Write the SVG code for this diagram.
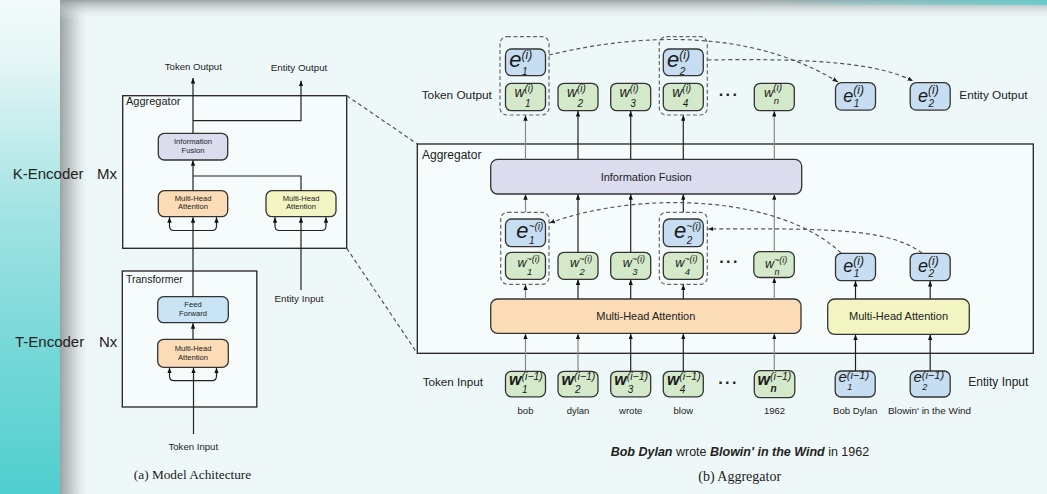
<svg xmlns="http://www.w3.org/2000/svg" width="1047" height="494" viewBox="0 0 1047 494">
<defs>
  <linearGradient id="strip" x1="0" y1="0" x2="0" y2="1">
    <stop offset="0" stop-color="#f2fafa"/>
    <stop offset="0.12" stop-color="#e6f6f6"/>
    <stop offset="0.4" stop-color="#a8e4e4"/>
    <stop offset="0.7" stop-color="#78d8d8"/>
    <stop offset="1" stop-color="#50cece"/>
  </linearGradient>
  <linearGradient id="shadowL" x1="0" y1="0" x2="1" y2="0">
    <stop offset="0" stop-color="#9ea3a4" stop-opacity="1"/>
    <stop offset="0.35" stop-color="#b9bebf" stop-opacity="0.8"/>
    <stop offset="1" stop-color="#eff8f8" stop-opacity="0"/>
  </linearGradient>
  <linearGradient id="shadowT" x1="0" y1="0" x2="0" y2="1">
    <stop offset="0" stop-color="#959b9c" stop-opacity="0.9"/>
    <stop offset="1" stop-color="#eff8f8" stop-opacity="0"/>
  </linearGradient>
  <linearGradient id="tealT" x1="0" y1="0" x2="1" y2="0">
    <stop offset="0" stop-color="#5fcfcf" stop-opacity="0"/>
    <stop offset="1" stop-color="#5fcfcf" stop-opacity="0.85"/>
  </linearGradient>
  <marker id="ah" viewBox="0 0 10 8" refX="10" refY="4" markerWidth="5.5" markerHeight="4.4" markerUnits="userSpaceOnUse" orient="auto-start-reverse">
    <path d="M0,0 L10,4 L0,8 z" fill="#111"/>
  </marker>
  <marker id="ahd" viewBox="0 0 10 8" refX="10" refY="4" markerWidth="5.5" markerHeight="4.4" markerUnits="userSpaceOnUse" orient="auto">
    <path d="M0,0 L10,4 L0,8 z" fill="#222"/>
  </marker>
</defs>
<style>
  .bx { stroke:#333; stroke-width:1.3; }
  .frame { fill:#f6fbfb; stroke:#222; stroke-width:1.3; }
  .gr { fill:#d4e9c9; }
  .bl { fill:#c7ddf1; }
  .lav { fill:#dcdcef; }
  .org { fill:#fcdcb7; }
  .yel { fill:#f2f4c2; }
  .ffb { fill:#c9e4f4; }
  .grp { fill:none; stroke:#666; stroke-width:1.2; stroke-dasharray:4 2.5; }
  .cn { fill:none; stroke:#222; stroke-width:1.2; }
  .cnl { fill:none; stroke:#888; stroke-width:1.2; }
  .dash { fill:none; stroke:#555; stroke-width:1.2; stroke-dasharray:4 3; }
  .t { font-family:"Liberation Sans", Arial, sans-serif; fill:#222; }
  .mi { font-family:"Liberation Sans", Arial, sans-serif; font-style:italic; fill:#1a1a1a; }
  .sf { font-family:"Liberation Serif", "Times New Roman", serif; fill:#222; }
  .c { text-anchor:middle; }
  .wb { font-weight:bold; }
  .nb { font-weight:normal; }
</style>

<!-- background -->
<rect x="0" y="0" width="1047" height="494" fill="#eff8f8"/>
<rect x="0" y="0" width="62" height="494" fill="url(#strip)"/>
<rect x="60" y="0" width="32" height="494" fill="url(#shadowL)"/>
<rect x="60" y="0" width="987" height="20" fill="url(#shadowT)"/>
<rect x="760" y="0" width="287" height="5" fill="url(#tealT)"/>

<!-- side labels -->
<g id="k-encoder-label">
  <text class="t" x="12.7" y="178.5" font-size="15">K-Encoder</text>
  <text class="t" x="97" y="178.5" font-size="15">Mx</text>
</g>
<g id="t-encoder-label">
  <text class="t" x="15" y="347" font-size="15">T-Encoder</text>
  <text class="t" x="99" y="347" font-size="15">Nx</text>
</g>

<!-- (a) Model architecture -->
<g id="a-aggregator">
  <rect class="frame" x="122.7" y="95.7" width="224" height="152.6"/>
  <text class="t" x="126" y="105" font-size="11">Aggregator</text>
</g>
<g id="a-transformer">
  <rect class="frame" x="122.3" y="271" width="134.5" height="136"/>
  <text class="t" x="126" y="282.5" font-size="10.5">Transformer</text>
</g>
<g id="a-info-fusion">
  <rect class="bx lav" x="158.3" y="133.3" width="69.4" height="26.7" rx="6"/>
  <text class="t c" x="193" y="143.5" font-size="7.6">Information</text>
  <text class="t c" x="193" y="152.8" font-size="7.6">Fusion</text>
</g>
<g id="a-mha-token">
  <rect class="bx org" x="158.3" y="190.7" width="69.4" height="26" rx="6"/>
  <text class="t c" x="193" y="200.5" font-size="7.6">Multi-Head</text>
  <text class="t c" x="193" y="209.3" font-size="7.6">Attention</text>
</g>
<g id="a-mha-entity">
  <rect class="bx yel" x="266" y="190.7" width="70" height="26" rx="6"/>
  <text class="t c" x="301" y="200.5" font-size="7.6">Multi-Head</text>
  <text class="t c" x="301" y="209.3" font-size="7.6">Attention</text>
</g>
<g id="a-feed-forward">
  <rect class="bx ffb" x="157.7" y="296.7" width="70.6" height="26" rx="6"/>
  <text class="t c" x="193" y="307.3" font-size="7.6">Feed</text>
  <text class="t c" x="193" y="315.8" font-size="7.6">Forward</text>
</g>
<g id="a-mha-transformer">
  <rect class="bx org" x="157.7" y="339.3" width="70.6" height="28" rx="6"/>
  <text class="t c" x="193" y="350.7" font-size="7.6">Multi-Head</text>
  <text class="t c" x="193" y="360" font-size="7.6">Attention</text>
</g>
<g id="a-token-output"><text class="t c" x="193.3" y="69.5" font-size="9.6">Token Output</text></g>
<g id="a-entity-output"><text class="t c" x="299" y="71" font-size="9.8">Entity Output</text></g>
<g id="a-entity-input"><text class="t c" x="299" y="301.5" font-size="9.8">Entity Input</text></g>
<g id="a-token-input"><text class="t c" x="193.3" y="450" font-size="9.6">Token Input</text></g>
<g id="a-caption"><text class="sf c" x="192.5" y="478.5" font-size="13.3">(a) Model Achitecture</text></g>

<!-- (b) Aggregator -->
<g id="b-aggregator">
  <rect class="frame" x="417.3" y="144" width="616" height="209.3"/>
  <text class="t" x="422" y="158.5" font-size="12">Aggregator</text>
</g>
<g id="b-info-fusion">
  <rect class="bx lav" x="490.7" y="159.3" width="311" height="34.7" rx="7" stroke="#555"/>
  <text class="t c" x="646.2" y="181" font-size="11">Information Fusion</text>
</g>
<g id="b-mha-token">
  <rect class="bx org" x="490.7" y="299" width="310.3" height="34.3" rx="7" stroke="#555"/>
  <text class="t c" x="645.8" y="320" font-size="11">Multi-Head Attention</text>
</g>
<g id="b-mha-entity">
  <rect class="bx yel" x="827.7" y="299" width="141.6" height="35.3" rx="7" stroke="#555"/>
  <text class="t c" x="898.5" y="320" font-size="11">Multi-Head Attention</text>
</g>

<g id="b-token-output-label"><text class="t" x="421.7" y="99" font-size="11.8">Token Output</text></g>
<g id="b-entity-output-label"><text class="t" x="959.3" y="98.5" font-size="11.8">Entity Output</text></g>
<g id="b-token-input-label"><text class="t" x="422.7" y="386" font-size="11.7">Token Input</text></g>
<g id="b-entity-input-label"><text class="t" x="968.3" y="386" font-size="12">Entity Input</text></g>

<!-- top row: token output -->
<g id="out-group-1">
  <rect class="grp" x="500" y="36.7" width="49" height="78.3" rx="7"/>
  <rect class="bx bl" x="505.5" y="49" width="40" height="26.7" rx="6"/>
  <text class="mi" x="509.3" y="66.5" font-size="22">e<tspan dy="-7.5" font-size="12">(i)</tspan><tspan x="522" y="75" font-size="10">1</tspan></text>
  <rect class="bx gr" x="505.5" y="83.3" width="40" height="27.4" rx="6"/>
  <text class="mi" x="514.4" y="97.3" font-size="14">w<tspan dy="-5.8" font-size="10">(i)</tspan><tspan x="525" y="106.5" font-size="10">1</tspan></text>
</g>
<g id="out-w2">
  <rect class="bx gr" x="558" y="83.3" width="40" height="27.4" rx="6"/>
  <text class="mi" x="566.9" y="97.3" font-size="14">w<tspan dy="-5.8" font-size="10">(i)</tspan><tspan x="577.5" y="106.5" font-size="10">2</tspan></text>
</g>
<g id="out-w3">
  <rect class="bx gr" x="610.7" y="83.3" width="40" height="27.4" rx="6"/>
  <text class="mi" x="619.6" y="97.3" font-size="14">w<tspan dy="-5.8" font-size="10">(i)</tspan><tspan x="630.2" y="106.5" font-size="10">3</tspan></text>
</g>
<g id="out-group-4">
  <rect class="grp" x="659.3" y="36.7" width="48" height="78.3" rx="7"/>
  <rect class="bx bl" x="663.3" y="49" width="40" height="26.7" rx="6"/>
  <text class="mi" x="667.1" y="66.5" font-size="22">e<tspan dy="-7.5" font-size="12">(i)</tspan><tspan x="679.8" y="75" font-size="10">2</tspan></text>
  <rect class="bx gr" x="663.3" y="83.3" width="40" height="27.4" rx="6"/>
  <text class="mi" x="672.2" y="97.3" font-size="14">w<tspan dy="-5.8" font-size="10">(i)</tspan><tspan x="682.8" y="106.5" font-size="10">4</tspan></text>
</g>
<g id="out-dots"><text class="t c" x="729" y="100" font-size="16" font-weight="bold" letter-spacing="1.5">···</text></g>
<g id="out-wn">
  <rect class="bx gr" x="754.3" y="83.3" width="40" height="27.4" rx="6"/>
  <text class="mi" x="763.9" y="96.8" font-size="13">w<tspan dy="-5.5" font-size="10">(i)</tspan><tspan x="773.8" y="103.5" font-size="9.5">n</tspan></text>
</g>
<g id="out-e1">
  <rect class="bx bl" x="835.5" y="82.7" width="40" height="27.4" rx="6"/>
  <text class="mi" x="843.3" y="101.7" font-size="18">e<tspan dy="-7.7" font-size="12">(i)</tspan><tspan x="853.8" y="106.5" font-size="10">1</tspan></text>
</g>
<g id="out-e2">
  <rect class="bx bl" x="910.2" y="82.7" width="40" height="27.4" rx="6"/>
  <text class="mi" x="918" y="101.7" font-size="18">e<tspan dy="-7.7" font-size="12">(i)</tspan><tspan x="928.5" y="106.5" font-size="10">2</tspan></text>
</g>

<!-- middle row -->
<g id="mid-group-1">
  <rect class="grp" x="500.7" y="212.3" width="48.3" height="72" rx="7"/>
  <rect class="bx bl" x="505.5" y="219" width="40" height="27.7" rx="6"/>
  <text class="mi" x="516.3" y="238" font-size="22">e<tspan dy="-8.5" font-size="10">~(i)</tspan><tspan x="529" y="243.8" font-size="10">1</tspan></text>
  <rect class="bx gr" x="505.5" y="252.3" width="40" height="27" rx="6"/>
  <text class="mi" x="517.5" y="266.7" font-size="12.5">w<tspan dy="-5.2" font-size="9">~(i)</tspan><tspan x="527" y="275" font-size="9.5">1</tspan></text>
</g>
<g id="mid-w2">
  <rect class="bx gr" x="558" y="252.3" width="40" height="27" rx="6"/>
  <text class="mi" x="570" y="266.7" font-size="12.5">w<tspan dy="-5.2" font-size="9">~(i)</tspan><tspan x="579.5" y="275" font-size="9.5">2</tspan></text>
</g>
<g id="mid-w3">
  <rect class="bx gr" x="610.7" y="252.3" width="40" height="27" rx="6"/>
  <text class="mi" x="622.7" y="266.7" font-size="12.5">w<tspan dy="-5.2" font-size="9">~(i)</tspan><tspan x="632.2" y="275" font-size="9.5">3</tspan></text>
</g>
<g id="mid-group-4">
  <rect class="grp" x="659.3" y="212.3" width="48" height="72" rx="7"/>
  <rect class="bx bl" x="663.3" y="219" width="40" height="27.7" rx="6"/>
  <text class="mi" x="674.1" y="238" font-size="22">e<tspan dy="-8.5" font-size="10">~(i)</tspan><tspan x="686.8" y="243.8" font-size="10">2</tspan></text>
  <rect class="bx gr" x="663.3" y="252.3" width="40" height="27" rx="6"/>
  <text class="mi" x="675.3" y="266.7" font-size="12.5">w<tspan dy="-5.2" font-size="9">~(i)</tspan><tspan x="684.8" y="275" font-size="9.5">4</tspan></text>
</g>
<g id="mid-dots"><text class="t c" x="729.5" y="267" font-size="16" font-weight="bold" letter-spacing="1.5">···</text></g>
<g id="mid-wn">
  <rect class="bx gr" x="753.8" y="251.7" width="40.5" height="25.8" rx="6"/>
  <text class="mi" x="765" y="268" font-size="12.5">w<tspan dy="-5" font-size="9">~(i)</tspan><tspan x="774.5" y="274.5" font-size="9">n</tspan></text>
</g>
<g id="mid-e1">
  <rect class="bx bl" x="835.5" y="253.3" width="40" height="27.4" rx="6"/>
  <text class="mi" x="843.3" y="271.5" font-size="18">e<tspan dy="-7" font-size="12">(i)</tspan><tspan x="853.8" y="277.3" font-size="10">1</tspan></text>
</g>
<g id="mid-e2">
  <rect class="bx bl" x="910.2" y="253.3" width="40" height="27.4" rx="6"/>
  <text class="mi" x="918" y="271.5" font-size="18">e<tspan dy="-7" font-size="12">(i)</tspan><tspan x="928.5" y="277.3" font-size="10">2</tspan></text>
</g>

<!-- input row -->
<g id="in-w1">
  <rect class="bx gr" x="505.5" y="371.3" width="40" height="25.5" rx="6"/>
  <text class="mi wb" x="509.1" y="385" font-size="16">w<tspan class="nb" dy="-5.5" font-size="10.5">(i−1)</tspan><tspan class="nb" x="522" y="392.8" font-size="10">1</tspan></text>
  <text class="t c" x="525.5" y="413.5" font-size="9.5">bob</text>
</g>
<g id="in-w2">
  <rect class="bx gr" x="558" y="371.3" width="40" height="25.5" rx="6"/>
  <text class="mi wb" x="561.6" y="385" font-size="16">w<tspan class="nb" dy="-5.5" font-size="10.5">(i−1)</tspan><tspan class="nb" x="575" y="392.8" font-size="10">2</tspan></text>
  <text class="t c" x="578" y="413.8" font-size="9.5">dylan</text>
</g>
<g id="in-w3">
  <rect class="bx gr" x="610.7" y="371.3" width="40" height="25.5" rx="6"/>
  <text class="mi wb" x="614.3" y="385" font-size="16">w<tspan class="nb" dy="-5.5" font-size="10.5">(i−1)</tspan><tspan class="nb" x="627.7" y="392.8" font-size="10">3</tspan></text>
  <text class="t c" x="630.7" y="413.8" font-size="9.5">wrote</text>
</g>
<g id="in-w4">
  <rect class="bx gr" x="663.3" y="371.3" width="40" height="25.5" rx="6"/>
  <text class="mi wb" x="666.9" y="385" font-size="16">w<tspan class="nb" dy="-5.5" font-size="10.5">(i−1)</tspan><tspan class="nb" x="679.8" y="392.8" font-size="10">4</tspan></text>
  <text class="t c" x="683.3" y="413.5" font-size="9.5">blow</text>
</g>
<g id="in-dots"><text class="t c" x="728.5" y="388" font-size="16" font-weight="bold" letter-spacing="1.5">···</text></g>
<g id="in-wn">
  <rect class="bx gr" x="754.3" y="370.7" width="40.5" height="27" rx="6"/>
  <text class="mi wb" x="757.6" y="384.5" font-size="16">w<tspan class="nb" dy="-5" font-size="10.5">(i−1)</tspan><tspan x="770.5" y="391.8" font-size="10">n</tspan></text>
  <text class="t c" x="774.5" y="413.5" font-size="9.5">1962</text>
</g>
<g id="in-e1">
  <rect class="bx bl" x="835.2" y="371" width="40" height="26" rx="6"/>
  <text class="mi" x="838.4" y="382.3" font-size="15">e<tspan dy="-3.3" font-size="11">(i−1)</tspan><tspan x="847.2" y="389.8" font-size="9">1</tspan></text>
  <text class="t c" x="855.2" y="413.5" font-size="9.6">Bob Dylan</text>
</g>
<g id="in-e2">
  <rect class="bx bl" x="910.2" y="371" width="40" height="26" rx="6"/>
  <text class="mi" x="913.4" y="382.3" font-size="15">e<tspan dy="-3.3" font-size="11">(i−1)</tspan><tspan x="922.2" y="389.8" font-size="9">2</tspan></text>
  <text class="t c" x="929.5" y="413.5" font-size="9.9">Blowin' in the Wind</text>
</g>

<g id="b-sentence">
  <text class="t" x="610.7" y="456" font-size="12.5"><tspan font-weight="bold" font-style="italic">Bob Dylan</tspan> wrote <tspan font-weight="bold" font-style="italic">Blowin' in the Wind</tspan> in 1962</text>
</g>
<g id="b-caption"><text class="sf" x="698.3" y="480.5" font-size="14">(b) Aggregator</text></g>

<!-- connectors -->
<g id="connectors">
  <!-- (a) -->
  <path class="cn" d="M193,133.3 V78" marker-end="url(#ah)"/>
  <path class="cn" d="M193,120.7 H301 V80.7" marker-end="url(#ah)"/>
  <path class="cn" d="M193,190.7 V160.3" marker-end="url(#ah)"/>
  <path class="cn" d="M301,190.7 V176 H193"/>
  <path class="cn" d="M193,296.7 V217.2" marker-end="url(#ah)"/>
  <path class="cn" d="M169.5,217.2 V226 Q169.5,230.5 174,230.5 H212 Q216.5,230.5 216.5,226 V217.2" marker-start="url(#ah)" marker-end="url(#ah)"/>
  <path class="cn" d="M301,290 V217.2" marker-end="url(#ah)"/>
  <path class="cn" d="M275,217.2 V226 Q275,230.5 279.5,230.5 H321.5 Q326,230.5 326,226 V217.2" marker-start="url(#ah)" marker-end="url(#ah)"/>
  <path class="cn" d="M193,339.3 V323.2" marker-end="url(#ah)"/>
  <path class="cn" d="M193.5,434 V367.8" marker-end="url(#ah)"/>
  <path class="cn" d="M169.5,367.8 V376 Q169.5,380.7 174,380.7 H212 Q216.5,380.7 216.5,376 V367.8" marker-start="url(#ah)" marker-end="url(#ah)"/>
  <!-- zoom lines -->
  <path class="dash" d="M346.7,95.7 L417.3,144"/>
  <path class="dash" d="M346.7,248.3 L417.3,353.3"/>
  <!-- (b) fusion to token output -->
  <path class="cnl" d="M525.5,159.3 V115.3" marker-end="url(#ah)"/>
  <path class="cn" d="M578,159.3 V111" marker-end="url(#ah)"/>
  <path class="cn" d="M630.7,159.3 V111" marker-end="url(#ah)"/>
  <path class="cn" d="M683.3,159.3 V115.3" marker-end="url(#ah)"/>
  <path class="cnl" d="M774.3,159.3 V111" marker-end="url(#ah)"/>
  <!-- middle row to fusion -->
  <path class="cnl" d="M525.5,212.3 V194.3" marker-end="url(#ah)"/>
  <path class="cn" d="M578,252.3 V194.3" marker-end="url(#ah)"/>
  <path class="cn" d="M630.7,252.3 V194.3" marker-end="url(#ah)"/>
  <path class="cn" d="M683.3,212.3 V194.3" marker-end="url(#ah)"/>
  <path class="cnl" d="M774.3,251.7 V194.3" marker-end="url(#ah)"/>
  <!-- attention to middle row -->
  <path class="cnl" d="M525.5,299 V284.6" marker-end="url(#ah)"/>
  <path class="cn" d="M578,299 V279.6" marker-end="url(#ah)"/>
  <path class="cn" d="M630.7,299 V279.6" marker-end="url(#ah)"/>
  <path class="cn" d="M683.3,299 V284.6" marker-end="url(#ah)"/>
  <path class="cnl" d="M774.3,299 V277.8" marker-end="url(#ah)"/>
  <path class="cn" d="M855.5,299 V281" marker-end="url(#ah)"/>
  <path class="cn" d="M930.2,299 V281" marker-end="url(#ah)"/>
  <!-- inputs to attention -->
  <path class="cnl" d="M525.5,371.3 V333.8" marker-end="url(#ah)"/>
  <path class="cnl" d="M578,371.3 V333.8" marker-end="url(#ah)"/>
  <path class="cn" d="M630.7,371.3 V333.8" marker-end="url(#ah)"/>
  <path class="cn" d="M683.3,371.3 V333.8" marker-end="url(#ah)"/>
  <path class="cnl" d="M774.3,370.7 V333.8" marker-end="url(#ah)"/>
  <path class="cn" d="M855.5,371 V334.6" marker-end="url(#ah)"/>
  <path class="cn" d="M930.2,371 V334.6" marker-end="url(#ah)"/>
  <!-- dashed entity links -->
  <path class="dash" d="M549,55 C620,38 740,22 838,82" marker-end="url(#ahd)"/>
  <path class="dash" d="M707.3,60 C820,58 880,64 913,81" marker-end="url(#ahd)"/>
  <path class="dash" d="M841,253 C780,195 640,190 549.5,223" marker-end="url(#ahd)"/>
  <path class="dash" d="M922,253 C890,230 840,228 707.8,229" marker-end="url(#ahd)"/>
</g>
</svg>
